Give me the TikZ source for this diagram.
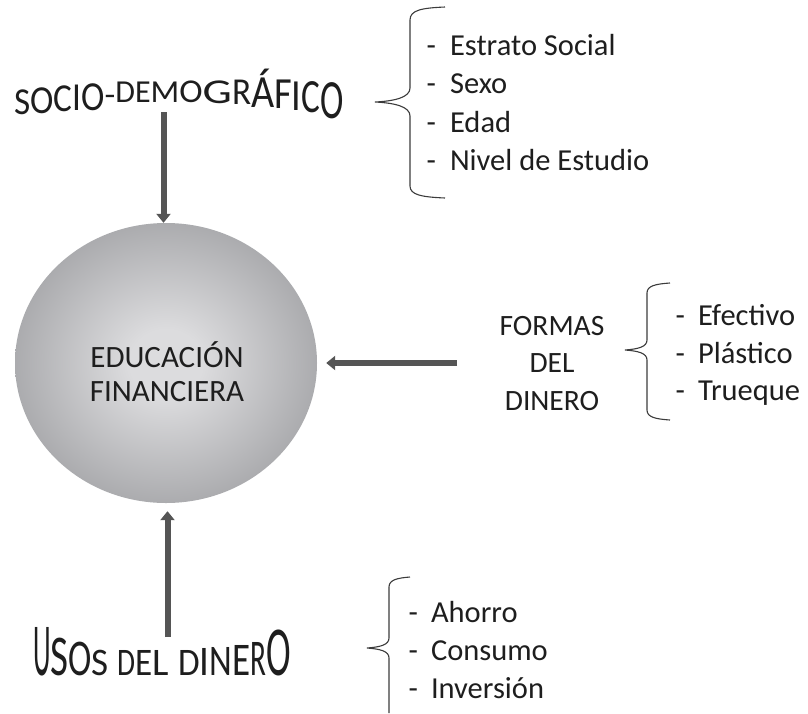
\documentclass[tikz,border=0pt]{standalone}
\usepackage{fontspec}
\setmainfont{Carlito}
\usepackage{graphicx}
\usetikzlibrary{shapes.geometric,arrows.meta}
\definecolor{ballin}{HTML}{DCDCDE}
\definecolor{ballout}{HTML}{6B6C70}
\definecolor{arrgray}{HTML}{555555}
\definecolor{txt}{HTML}{1E1E1E}
\definecolor{brc}{HTML}{3C3C3C}
\pgfdeclareradialshading{ball}{\pgfpoint{0bp}{0bp}}{color(0bp)=(ballin); color(6bp)=(ballin); color(50bp)=(ballout)}
% raise, xscale, yscale, letter
\newcommand\lu[4]{\raisebox{#1pt}{\scalebox{#2}[#3]{#4}}}
\begin{document}
\begin{tikzpicture}[x=1pt,y=-1pt,
  arr/.style={draw=arrgray, line width=6pt, -{Triangle[width=14pt,length=9pt]}},
  brace/.style={draw=brc, line width=1.1pt},
  title/.style={anchor=base west, inner sep=0pt, text=txt},
  item/.style={anchor=base west, inner sep=0pt, text=txt, font=\fontsize{30.5}{36}\selectfont},
  ctext/.style={anchor=base, inner sep=0pt, text=txt}]
\useasboundingbox (0,0) rectangle (808,713);

% central ball
\node[ellipse, minimum width=302pt, minimum height=280pt, inner sep=0pt, shading=ball] (edu) at (166,363) {};
\node[ctext, font=\fontsize{31}{31}\selectfont] (e1) at (167,367) {EDUCACIÓN};
\node[ctext, font=\fontsize{31}{31}\selectfont] (e2) at (167,401) {FINANCIERA};

% titles
\node[title, font=\fontsize{32}{32}\selectfont] (sd) at (14,114) {%
\lu{0}{1.1}{1.19}{S}%
\lu{1}{1.1}{1.24}{O}%
\lu{3}{1.1}{1.24}{C}%
\lu{4}{1.1}{1.24}{I}%
\lu{4}{1.1}{1.29}{O}%
\lu{9}{1.1}{1}{-}%
\lu{12}{1.0}{1}{D}%
\lu{12}{1.0}{1}{E}%
\lu{12}{1.05}{1}{M}%
\lu{12}{1.1}{1.04}{O}%
\lu{11}{1.45}{1.09}{G}%
\lu{10}{1.1}{1.19}{R}%
\lu{7}{1.25}{1.44}{Á}%
\lu{6}{1.2}{1.39}{F}%
\lu{4}{1.2}{1.39}{I}%
\lu{2}{1.1}{1.49}{C}%
\lu{-4}{1.1}{1.73}{O}};

\node[title, font=\fontsize{39}{39}\selectfont] (us) at (33,675) {%
\lu{0}{.7}{1.92}{U}%
\lu{0}{1}{1.48}{S}%
\lu{0}{.9}{1.32}{O}%
\lu{0}{.95}{1}{S}%
\hspace{8.8pt}%
\lu{0}{.75}{1}{D}%
\lu{0}{.9}{1}{E}%
\lu{0}{1}{1}{L}%
\hspace{8.8pt}%
\lu{0}{.9}{1}{D}%
\lu{0}{1}{1.08}{I}%
\lu{0}{.9}{1.12}{N}%
\lu{0}{.95}{1.2}{E}%
\lu{0}{.75}{1.32}{R}%
\lu{0}{.95}{1.8}{O}};

\node[ctext, font=\fontsize{29.5}{30}\selectfont] (f1) at (552,335) {FORMAS};
\node[ctext, font=\fontsize{29.5}{30}\selectfont] (f2) at (552,372) {DEL};
\node[ctext, font=\fontsize{29.5}{30}\selectfont] (f3) at (552,410) {DINERO};

% lists
\node[item] (s1) at (426.5,55) {-\hspace{14pt}Estrato Social};
\node[item] (s2) at (426.5,93.5) {-\hspace{14pt}Sexo};
\node[item] (s3) at (426.5,132) {-\hspace{14pt}Edad};
\node[item] (s4) at (426.5,170.5) {-\hspace{14pt}Nivel de Estudio};

\node[item] (d1) at (675.5,325) {-\hspace{13pt}Efectivo};
\node[item] (d2) at (675.5,363) {-\hspace{13pt}Plástico};
\node[item] (d3) at (675.5,400) {-\hspace{13pt}Trueque};

\node[item] (u1) at (408.5,622) {-\hspace{13pt}Ahorro};
\node[item] (u2) at (408.5,660) {-\hspace{13pt}Consumo};
\node[item] (u3) at (408.5,698) {-\hspace{13pt}Inversión};

% braces
\draw[brace] (445,7) .. controls (422,8) and (410,10) .. (410,20) -- (410,88)
  .. controls (410,97) and (396,101) .. (375,102)
  .. controls (396,103) and (410,107) .. (410,116) -- (410,186)
  .. controls (410,195) and (422,197) .. (445,198);
\draw[brace] (670,283) .. controls (655,284) and (647,286) .. (647,293) -- (647,340)
  .. controls (647,347) and (638,349) .. (625,350)
  .. controls (638,351) and (647,353) .. (647,360) -- (647,410)
  .. controls (647,417) and (655,419) .. (670,420);
\draw[brace] (410,577) .. controls (397,578) and (389,580) .. (389,587) -- (389,638)
  .. controls (389,645) and (380,647) .. (367,648)
  .. controls (380,649) and (389,651) .. (389,658) -- (389,713);

% arrows
\coordinate (a1) at (163.5,112);
\draw[arr] (a1) -- (a1 |- edu.north);
\coordinate (a2) at (457,363);
\draw[arr] (a2) -- ([xshift=9pt]edu.east);
\coordinate (a3) at (167.5,637);
\coordinate (b3) at ([yshift=-8pt]edu.south);
\draw[arr] (a3) -- (a3 |- b3);
\end{tikzpicture}
\end{document}
